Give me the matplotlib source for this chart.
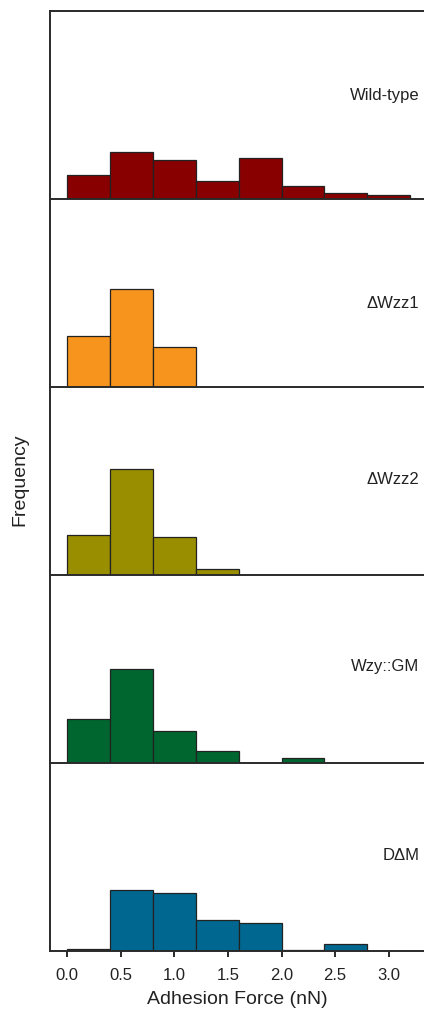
import numpy as np
import matplotlib
matplotlib.use("Agg")
import matplotlib.pyplot as plt

plt.rcParams['font.family'] = ['Liberation Sans', 'DejaVu Sans']

# Histogram bin edges (nN) and frequencies (%) for each strain
bin_edges = [0.0, 0.4, 0.8, 1.2, 1.6, 2.0, 2.4, 2.8, 3.2]
strains = ["Wild-type", "\u0394Wzz1", "\u0394Wzz2", "Wzy::GM", "D\u0394M"]
wild_type = [12.5, 25.0, 20.5, 9.5, 21.5, 6.5, 3.0, 2.0]
wzz1 = [27.0, 52.0, 21.0, 0, 0, 0, 0, 0]
wzz2 = [21.0, 56.0, 20.0, 3.0, 0, 0, 0, 0]
wzy_gm = [23.0, 50.0, 17.0, 6.0, 0, 2.3, 0, 0]
d_m = [1.0, 32.5, 30.5, 16.5, 14.7, 0.6, 3.6, 0]
freqs = [wild_type, wzz1, wzz2, wzy_gm, d_m]
colors = ["#880000", "#F7941D", "#998E00", "#00662F", "#006890"]
xticks = [0.0, 0.5, 1.0, 1.5, 2.0, 2.5, 3.0]

# layout in figure fractions
W, H = 424, 1017
left = 50 / W
bottom = (H - 950.7) / H
panel_h = 188 / H
label_y = [0.548, 0.44, 0.504, 0.512, 0.505]
spine_col = "#2a2a2a"

fig = plt.figure(figsize=(W / 100, H / 100), dpi=100)
widths = np.diff(bin_edges)

for i, (name, vals, col) in enumerate(zip(strains, freqs, colors)):
    y0 = bottom + (len(strains) - 1 - i) * panel_h
    ax = fig.add_axes([left, y0, 1 - left, panel_h])
    ax.patch.set_visible(False)
    ax.bar(bin_edges[:-1], vals, width=widths, align='edge', color=col,
           edgecolor="#222222", linewidth=0.9)
    ax.set_xlim(-0.162, 3.33)
    ax.set_ylim(0, 100)
    ax.set_yticks([])
    ax.spines['right'].set_visible(False)
    ax.spines['top'].set_visible(i == 0)
    for s in ['left', 'bottom', 'top']:
        ax.spines[s].set_color(spine_col)
        ax.spines[s].set_linewidth(1.4)
    ax.text(0.987, label_y[i], name, transform=ax.transAxes, ha='right',
            va='center', fontsize=12, color="#222222")
    if i == len(strains) - 1:
        ax.set_xticks(xticks)
        ax.set_xticklabels([f"{t:.1f}" for t in xticks])
        ax.tick_params(axis='x', direction='out', length=4.5, width=1.4,
                       color=spine_col, labelsize=12, pad=8, labelcolor="#222222")
        ax.set_xlabel("Adhesion Force (nN)", fontsize=14, labelpad=6, color="#222222")
    else:
        ax.set_xticks([])

fig.text(20 / W, 1 - 480 / H, "Frequency", rotation=90, ha='center', va='center',
         fontsize=14, color="#222222")

fig.savefig("out.png", dpi=100)
